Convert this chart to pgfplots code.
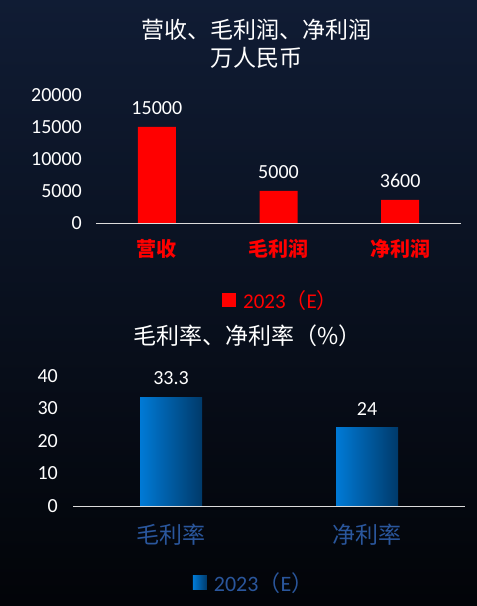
\documentclass[border=0pt]{standalone}
\usepackage{pgfplots}
\pgfplotsset{compat=1.18}
\usepackage{fontspec}
\setmainfont{Carlito}
\newfontfamily\cjk{Noto Sans CJK SC}

\definecolor{skytop}{RGB}{16,28,52}
\definecolor{skymid}{RGB}{8,14,28}
\definecolor{skybot}{RGB}{2,4,8}
\definecolor{barred}{RGB}{255,0,0}
\definecolor{bluelight}{RGB}{0,122,214}
\definecolor{bluedark}{RGB}{0,58,106}
\definecolor{bluetext}{RGB}{42,86,156}
\definecolor{axisgray}{RGB}{220,220,220}

\newcommand{\fs}[1]{\fontsize{#1bp}{#1bp}\selectfont}

\begin{document}
\begin{tikzpicture}
\shade[top color=skytop, middle color=skymid, bottom color=skybot]
  (0,0) rectangle (477bp,606bp);

% top chart
\begin{axis}[
  at={(96bp,383bp)}, anchor=south west,
  scale only axis, width=365bp, height=128bp,
  xmin=-0.5, xmax=2.5, ymin=0, ymax=20000,
  axis lines*=left,
  y axis line style={draw=none},
  x axis line style={draw=axisgray, line width=0.8pt},
  major tick length=0pt,
  xtick={0,1,2}, xticklabels={营收,毛利润,净利润},
  xticklabel style={font=\cjk\bfseries\fs{20}, text=barred,
    anchor=center, inner sep=0pt, yshift=-26bp},
  ytick={0,5000,10000,15000,20000},
  scaled y ticks=false,
  /pgf/number format/1000 sep={},
  /pgf/number format/assume math mode=true,
  yticklabel style={font=\fs{20}, text=white, inner sep=0pt, xshift=-14bp},
  clip=false,
  title={营收、毛利润、净利润\\[5bp]万人民币},
  title style={font=\cjk\fs{23}, text=white, align=center,
    at={(0.44,1.355)}, anchor=center},
  legend style={draw=none, fill=none, text=barred, font=\fs{21},
    at={(0.507,-0.60)}, anchor=center,
    /tikz/every odd column/.append style={column sep=5bp}},
  legend image code/.code={\fill[barred] (0bp,-7bp) rectangle (14bp,7bp);},
]
\addplot[ybar, bar width=38bp, bar shift=0pt, fill=barred, draw=none,
  point meta=explicit symbolic, nodes near coords,
  every node near coord/.append style={text=white, font=\fs{20},
    inner sep=0pt, yshift=12.5bp}]
  coordinates {(0,15000) [15000] (1,5000) [5000] (2,3600) [3600]};
\addlegendentry{2023{\cjk（}E{\cjk）}}
\end{axis}

% bottom chart
\begin{axis}[
  at={(73bp,100bp)}, anchor=south west,
  scale only axis, width=392bp, height=130.3bp,
  xmin=-0.5, xmax=1.5, ymin=0, ymax=40,
  axis lines*=left,
  y axis line style={draw=none},
  x axis line style={draw=axisgray, line width=0.8pt},
  major tick length=0pt,
  xtick={0,1}, xticklabels={毛利率,净利率},
  xticklabel style={font=\cjk\fs{23}, text=bluetext,
    anchor=center, inner sep=0pt, yshift=-29bp},
  ytick={0,10,20,30,40},
  /pgf/number format/assume math mode=true,
  yticklabel style={font=\fs{20}, text=white, inner sep=0pt, xshift=-15bp},
  clip=false,
  title={毛利率、净利率（\%）},
  title style={font=\cjk\fs{23}, text=white,
    at={(0.445,1.259)}, anchor=center},
  legend style={draw=none, fill=none, text=bluetext, font=\fs{22},
    at={(0.462,-0.59)}, anchor=center,
    /tikz/every odd column/.append style={column sep=5bp}},
  legend image code/.code={\shade[left color=bluelight, right color=bluedark]
    (0bp,-7bp) rectangle (14bp,7bp);},
]
\addplot[ybar, bar width=62bp, bar shift=0pt, draw=none,
  left color=bluelight, right color=bluedark,
  point meta=explicit symbolic, nodes near coords,
  every node near coord/.append style={text=white, font=\fs{20},
    inner sep=0pt, yshift=12.5bp}]
  coordinates {(0,33.3) [33.3]};
\addlegendentry{2023{\cjk（}E{\cjk）}}
\addplot[ybar, bar width=62bp, bar shift=0pt, draw=none, forget plot,
  left color=bluelight, right color=bluedark,
  point meta=explicit symbolic, nodes near coords,
  every node near coord/.append style={text=white, font=\fs{20},
    inner sep=0pt, yshift=12.5bp}]
  coordinates {(1,24) [24]};
\end{axis}

\pgfresetboundingbox
\path (0,0) rectangle (477bp,606bp);
\end{tikzpicture}
\end{document}
